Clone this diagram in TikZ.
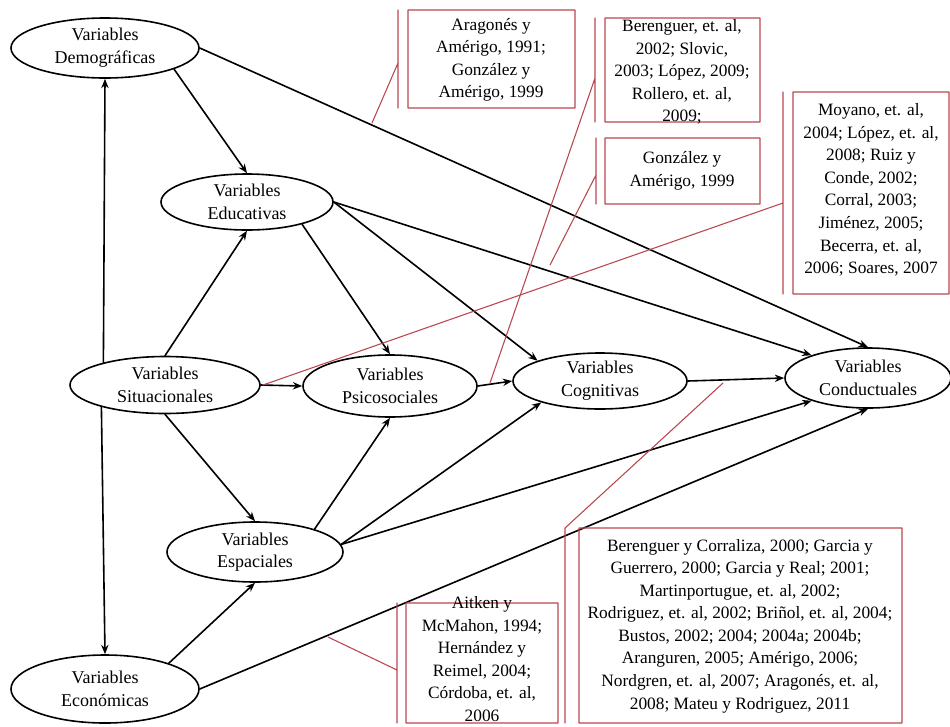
\documentclass[tikz,border=0pt]{standalone}
\usepackage{fontspec}
\setmainfont{Liberation Serif}
\usetikzlibrary{shapes.geometric, arrows.meta}
\definecolor{callred}{RGB}{185,70,78}
\begin{document}
\begin{tikzpicture}[x=0.75pt, y=-0.75pt, font=\fontsize{13.5}{17}\selectfont, line join=round, line cap=round, >={Stealth[length=7pt, width=5.5pt]},
  var/.style={draw, ellipse, line width=1.2pt, inner sep=0pt, align=center},
  ell/.style 2 args={minimum width=#1*0.75pt, minimum height=#2*0.75pt},
  cite/.style={align=center, inner sep=0pt, font=\fontsize{13}{16.9}\selectfont},
  callout/.style={draw=callred, line width=0.8pt},
  link/.style={->, line width=1.2pt}]
\useasboundingbox (0,0) rectangle (950,726);
% variables
\node[var, ell={188}{60}] (dem) at (105,48) {Variables\\Demográficas};
\node[var, ell={172}{56}] (edu) at (247,202) {Variables\\Educativas};
\node[var, ell={190}{57}] (sit) at (165,385) {Variables\\Situacionales};
\node[var, ell={174}{62}] (psi) at (390,386) {Variables\\Psicosociales};
\node[var, ell={174}{56}] (cog) at (600,381) {Variables\\Cognitivas};
\node[var, ell={166}{60}] (con) at (868,378) {Variables\\Conductuales};
\node[var, ell={176}{60}] (esp) at (255,552) {Variables\\Espaciales};
\node[var, ell={188}{68}] (eco) at (105,689) {Variables\\Económicas};
\foreach \a/\b in {sit.160/dem.south, sit.199/eco.north, dem.343/edu.north, dem.east/con.north,
  sit.north/edu.south, edu.338/psi.north, edu.east/cog.162, edu.east/con.158, sit.east/psi.west,
  sit.south/esp.north, psi.east/cog.west, esp.21/psi.south, esp.5/cog.200, esp.5/con.202,
  eco.22/esp.south, eco.east/con.south, cog.east/con.west}
  \draw[link] (\a) -- (\b);
% callouts: box, bar, leader
\foreach \xa/\ya/\xb/\yb/\xc/\yl/\ex/\ey in {408/10/575/108/398/63/372/123, 605/18/760/122/595/78/490/383,
  605/138/760/204/596/175/550/265, 793/92/949/294/783/203/263/385,
  406/603/558/723/397/670/328/637, 579/528/902/723/565/528/723/383}
  \draw[callout] (\xa,\ya) rectangle (\xb,\yb) (\xc,\ya) -- (\xc,\yb) (\xc,\yl) -- (\ex,\ey);
\node[cite] (aragones) at (491,60) {Aragonés y\\Amérigo, 1991;\\González y\\Amérigo, 1999};
\node[cite] (berenguer) at (682,72) {Berenguer, et. al,\\2002; Slovic,\\2003; López, 2009;\\Rollero, et. al,\\2009;};
\node[cite] (gonzalez) at (682,171) {González y\\Amérigo, 1999};
\node[cite] (moyano) at (871,190) {Moyano, et. al,\\2004; López, et. al,\\2008; Ruiz y\\Conde, 2002;\\Corral, 2003;\\Jiménez, 2005;\\Becerra, et. al,\\2006; Soares, 2007};
\node[cite] (aitken) at (482,659) {Aitken y\\McMahon, 1994;\\Hernández y\\Reimel, 2004;\\Córdoba, et. al,\\2006};
\node[cite] (corraliza) at (740,626) {Berenguer y Corraliza, 2000; Garcia y\\Guerrero, 2000; Garcia y Real; 2001;\\Martinportugue, et. al, 2002;\\Rodriguez, et. al, 2002; Briñol, et. al, 2004;\\Bustos, 2002; 2004; 2004a; 2004b;\\Aranguren, 2005; Amérigo, 2006;\\Nordgren, et. al, 2007; Aragonés, et. al,\\2008; Mateu y Rodriguez, 2011};
\end{tikzpicture}
\end{document}
